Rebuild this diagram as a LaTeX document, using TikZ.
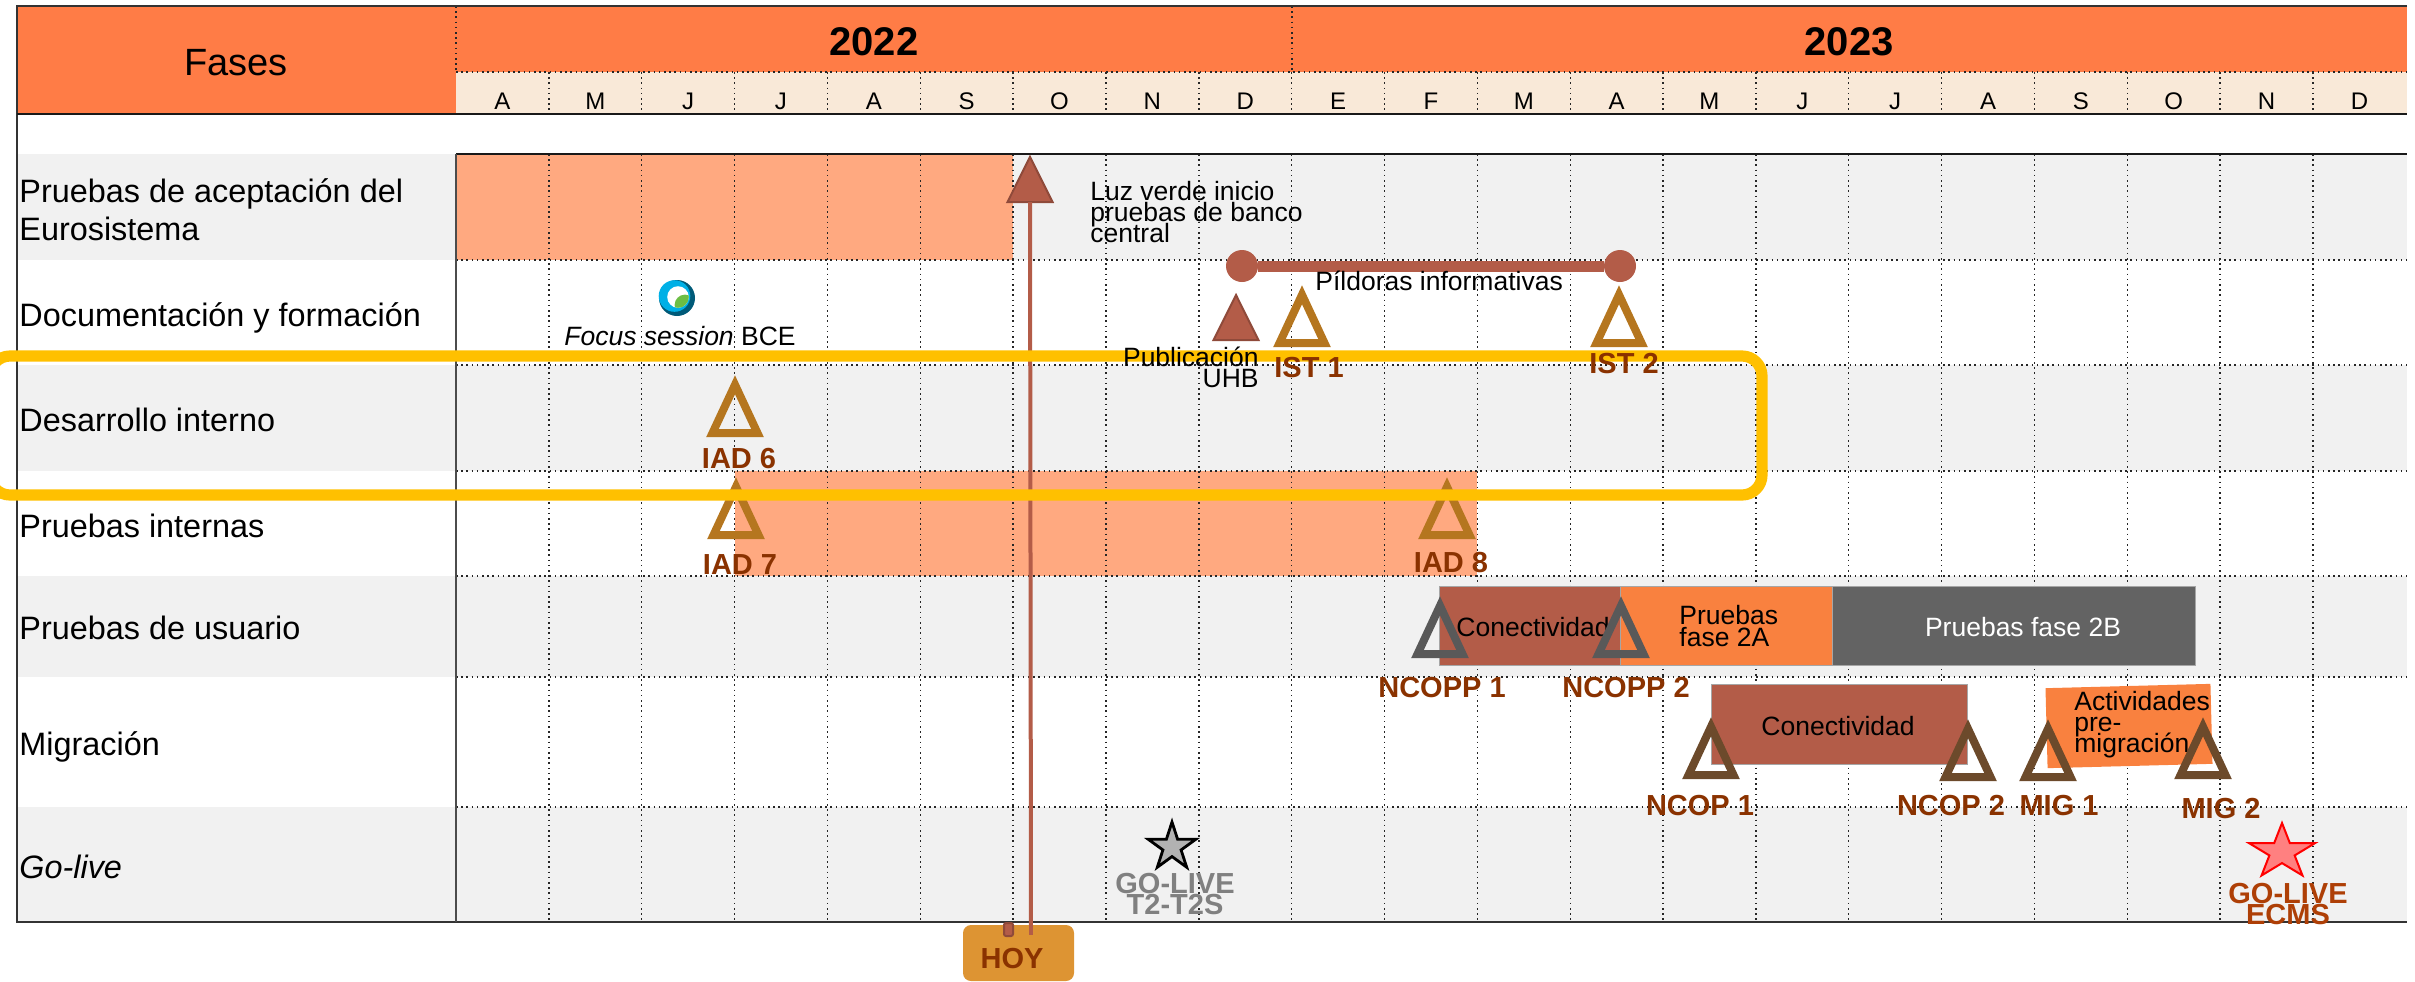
\documentclass[tikz,border=0pt]{standalone}
\usepackage{fontspec}
\setmainfont{Liberation Sans}
\usetikzlibrary{positioning,shapes.geometric}
\lineskiplimit=-30pt
\definecolor{hdr}{HTML}{FF7C46}
\definecolor{cream}{HTML}{F9E9D8}
\definecolor{rowg}{HTML}{F1F1F1}
\definecolor{peach}{HTML}{FFA980}
\definecolor{brick}{HTML}{B35C48}
\definecolor{brickd}{HTML}{8F4A3A}
\definecolor{orng}{HTML}{F9813F}
\definecolor{slate}{HTML}{636363}
\definecolor{gold}{HTML}{B5761F}
\definecolor{umber}{HTML}{6C4A2B}
\definecolor{rust}{HTML}{8A3200}
\definecolor{rustl}{HTML}{AE3F06}
\definecolor{amber}{HTML}{DD9433}
\definecolor{ylw}{HTML}{FFC000}
\definecolor{fsc}{HTML}{00B0E6}
\definecolor{fsd}{HTML}{005A78}
\definecolor{fsg}{HTML}{6CBE45}
\begin{document}
\begin{tikzpicture}
  [
   x=.5pt,y=-.5pt,
   node distance=7pt and 0pt,
   rl/.style={anchor=base west,inner sep=0pt,font=\fontsize{16.2}{19}\selectfont,align=left},
   mo/.style={anchor=base,inner sep=0pt,font=\fontsize{12}{14}\selectfont},
   yr/.style={anchor=base,inner sep=0pt,font=\fontsize{20}{24}\selectfont\bfseries},
   nt/.style={inner sep=0pt,font=\fontsize{13.25}{10.5}\selectfont},
   ml/.style={inner sep=0pt,anchor=north,text=rust,align=center,font=\fontsize{14.5}{10.5}\selectfont\bfseries},
   bx/.style={anchor=north west,inner sep=0pt,outer sep=0pt,draw=black!35,line width=.4pt},
   tr/.style={isosceles triangle,isosceles triangle apex angle=50,shape border rotate=90,
              inner sep=0pt,outer sep=0pt,anchor=south,minimum width=22.5pt,minimum height=24pt,
              line width=4pt,miter limit=10},
   tg/.style={tr,draw=gold},
   ts/.style={tr,draw=black!65},
   tb/.style={tr,draw=umber},
   tf/.style={tr,fill=brick,draw=brickd,line width=1pt,isosceles triangle apex angle=53,minimum width=22.5pt,minimum height=22.5pt},
   gd/.style={dash pattern=on .8pt off 1.8pt,line width=.7pt,black!85}
  ]
   \clip (0,0) rectangle (2415,981);
   % bandas
   \fill[hdr] (17,6) rectangle (2407,114);
   \fill[cream] (456,72) rectangle (2407,114);
   \foreach \ya/\yb in {154/260,365/471,576/677,807/922}
     \fill[rowg] (17,\ya) rectangle (2407,\yb);
   \fill[peach] (456,154) rectangle (1013,260);
   \fill[peach] (735,471) rectangle (1477,576);

   % rejilla
   \foreach \k in {1,...,20} {
     \draw[gd] ({456+92.85*\k},154) -- ({456+92.85*\k},922);
     \draw[gd] ({456+92.85*\k},72) -- ({456+92.85*\k},114);
   }
   \foreach \yy in {72,260,365,471,576,677,807}
     \draw[gd] (456,\yy) -- (2407,\yy);
   \draw[gd] (456,6) -- (456,72);
   \draw[gd] (1292,6) -- (1292,72);
   \draw[line width=.8pt,black!80] (2407,6) -- (17,6) -- (17,922) -- (2407,922);
   \draw[line width=.8pt,black!90] (17,114) -- (2407,114);
   \draw[line width=.8pt,black!90] (456,154) -- (2407,154);
   \draw[line width=.8pt,black!70] (456,154) -- (456,922);

   % cabecera
   \node[inner sep=0pt,anchor=base,font=\fontsize{19}{22}\selectfont] (fases) at (236,75) {Fases};
   \node[yr] (y22) at (874,55) {2022};
   \node[yr] (y23) at (1849,55) {2023};
   \foreach \k/\m in {0/A,1/M,2/J,3/J,4/A,5/S,6/O,7/N,8/D,9/E,10/F,11/M,12/A,13/M,14/J,15/J,16/A,17/S,18/O,19/N,20/D}
     \node[mo] (m\k) at ({456+92.85*\k+46.4},109) {\m};

   % fases
   \node[rl,anchor=north west] (r1) at (19,178) {Pruebas de aceptación del\\Eurosistema};
   \node[rl] (r2) at (19,326) {Documentación y formación};
   \node[rl] (r3) at (19,431) {Desarrollo interno};
   \node[rl] (r4) at (19,537) {Pruebas internas};
   \node[rl] (r5) at (19,639) {Pruebas de usuario};
   \node[rl] (r6) at (19,755) {Migración};
   \node[rl] (r7) at (19,878) {\itshape Go-live};

   % barras
   \node[bx,fill=brick,minimum width=90.5pt,minimum height=39.5pt] (cp) at (1439,586) {};
   \node[bx,fill=orng,minimum width=106pt,minimum height=39.5pt] (f2a) at (1620,586) {};
   \node[bx,fill=slate,minimum width=181.5pt,minimum height=39.5pt] (f2b) at (1832,586) {};
   \node[bx,fill=brick,minimum width=128pt,minimum height=40pt] (cm) at (1711,684) {};
   \node[fill=orng,inner sep=0pt,outer sep=0pt,rotate=1.5,minimum width=82.5pt,minimum height=40pt] (pm) at (2129,726) {};

   \node[nt] (tcp) at (1533,627) {Conectividad};
   \node[nt,anchor=west,align=left,font=\fontsize{13.25}{11}\selectfont] (t2a) at (1679,626) {Pruebas\\fase 2A};
   \node[nt,text=white] (t2b) at (2023,627) {Pruebas fase 2B};
   \node[nt] (tcm) at (1838,726) {Conectividad};
   \node[nt,anchor=west,align=left] (tpm) at (2074,725) {Actividades\\pre-\\migración};

   % hitos
   \node[tf] (lv) at (1030,202) {};
   \coordinate (hl) at (1031,935);
   \node[tg] (iad7) at (736,535) {};
   \node[tg] (iad8) at (1447,535) {};

   \draw[brick,line width=2pt] (lv) -- (hl);

   \node[nt,anchor=north west,align=left] (luz) at (1090,181) {Luz verde inicio\\pruebas de banco\\central};

   \node[circle,fill=brick,inner sep=0pt,minimum size=16pt] (p1) at (1242,266) {};
   \node[circle,fill=brick,inner sep=0pt,minimum size=16pt] (p2) at (1620,266) {};
   \draw[brick,line width=5.5pt] (p1) -- (p2);
   \node[nt,anchor=base west] (pil) at (1315,290) {Píldoras informativas};

   \node[circle,fill=fsd,inner sep=0pt,minimum size=18pt] (fs) at (677,298) {};
   \fill[fsc] (674.5,296) circle [radius=7.9pt];
   \fill[white] (678,297) circle [radius=5.4pt];
   \begin{scope}
     \clip (678,297) circle [radius=5.4pt];
     \fill[fsg] (685,305) circle [radius=5.2pt];
   \end{scope}
   \node[nt,anchor=base] (fst) at (680,345) {\itshape Focus session\upshape{} BCE};

   \node[tg] (iad6) at (735,433) {};
   \node[ml,xshift=2pt] (liad6) [below=7.5pt of iad6] {IAD 6};
   \node[ml,xshift=2pt] (liad7) [below=9.5pt of iad7] {IAD 7};
   \node[ml,xshift=2pt] (liad8) [below=8.5pt of iad8] {IAD 8};

   \node[ts] (nc1) at (1440,654) {};
   \node[ts] (nc2) at (1621,654) {};
   \node[ml,xshift=1pt] (lnc1) [below=11.5pt of nc1] {NCOPP 1};
   \node[ml,xshift=2.5pt] (lnc2) [below=11.5pt of nc2] {NCOPP 2};

   \node[tb] (no1) at (1711,775) {};
   \node[tb] (no2) at (1968,777) {};
   \node[tb] (mi1) at (2048,777) {};
   \node[tb] (mi2) at (2203,775) {};
   \node[ml,xshift=-5.5pt] (lno1) [below=10pt of no1] {NCOP 1};
   \node[ml,xshift=-8.5pt] (lno2) [below=9pt of no2] {NCOP 2};
   \node[ml,xshift=5.5pt] (lmi1) [below=9pt of mi1] {MIG 1};
   \node[ml,xshift=9pt] (lmi2) [below=11.5pt of mi2] {MIG 2};

   \node[star,star points=5,star point ratio=2.618,inner sep=0pt,minimum size=25pt,
         fill=black!30,draw=black,line width=1.4pt] (sg) at (1172,847) {};
   \node[ml,text=black!50] (lsg) at (1175,873) {GO-LIVE\\T2-T2S};
   \node[star,star points=5,star point ratio=2.618,inner sep=0pt,minimum size=29pt,xscale=1.2,transform shape,
         fill=red!50,draw=red,line width=1pt] (sr) at (2282,852) {};
   \node[ml,text=rustl] (lsr) at (2288,883) {GO-LIVE\\ECMS};

   % marco amarillo
   \draw[ylw,line width=5.6pt,rounded corners=10pt] (-10,356) rectangle (1762,495);

   \node[tf,minimum width=20pt] (uhb) at (1236,340) {};
   \node[nt,anchor=north east,align=right] (luhb) at (1259,347) {Publicación\\UHB};
   \node[tg] (ist1) at (1302,343) {};
   \node[tg] (ist2) at (1619,343) {};
   \node[ml,xshift=3.5pt] (list1) [below=7pt of ist1] {IST 1};
   \node[ml,xshift=2.5pt] (list2) [below=5pt of ist2] {IST 2};

   \node[draw=none,fill=amber,rounded corners=4pt,anchor=north west,inner sep=0pt,outer sep=0pt,
         minimum width=55.5pt,minimum height=28pt] (hoy) at (963,925) {};
   \node[fill=brick,draw=brickd,line width=1pt,rounded corners=1pt,inner sep=0pt,
         minimum width=4.5pt,minimum height=6.5pt] (sq) at (1008.5,929.5) {};
   \draw[brick,line width=2pt] (1031,920) -- (hl);
   \node[ml,anchor=center] (thoy) at (1012,958) {HOY};
\end{tikzpicture}
\end{document}
